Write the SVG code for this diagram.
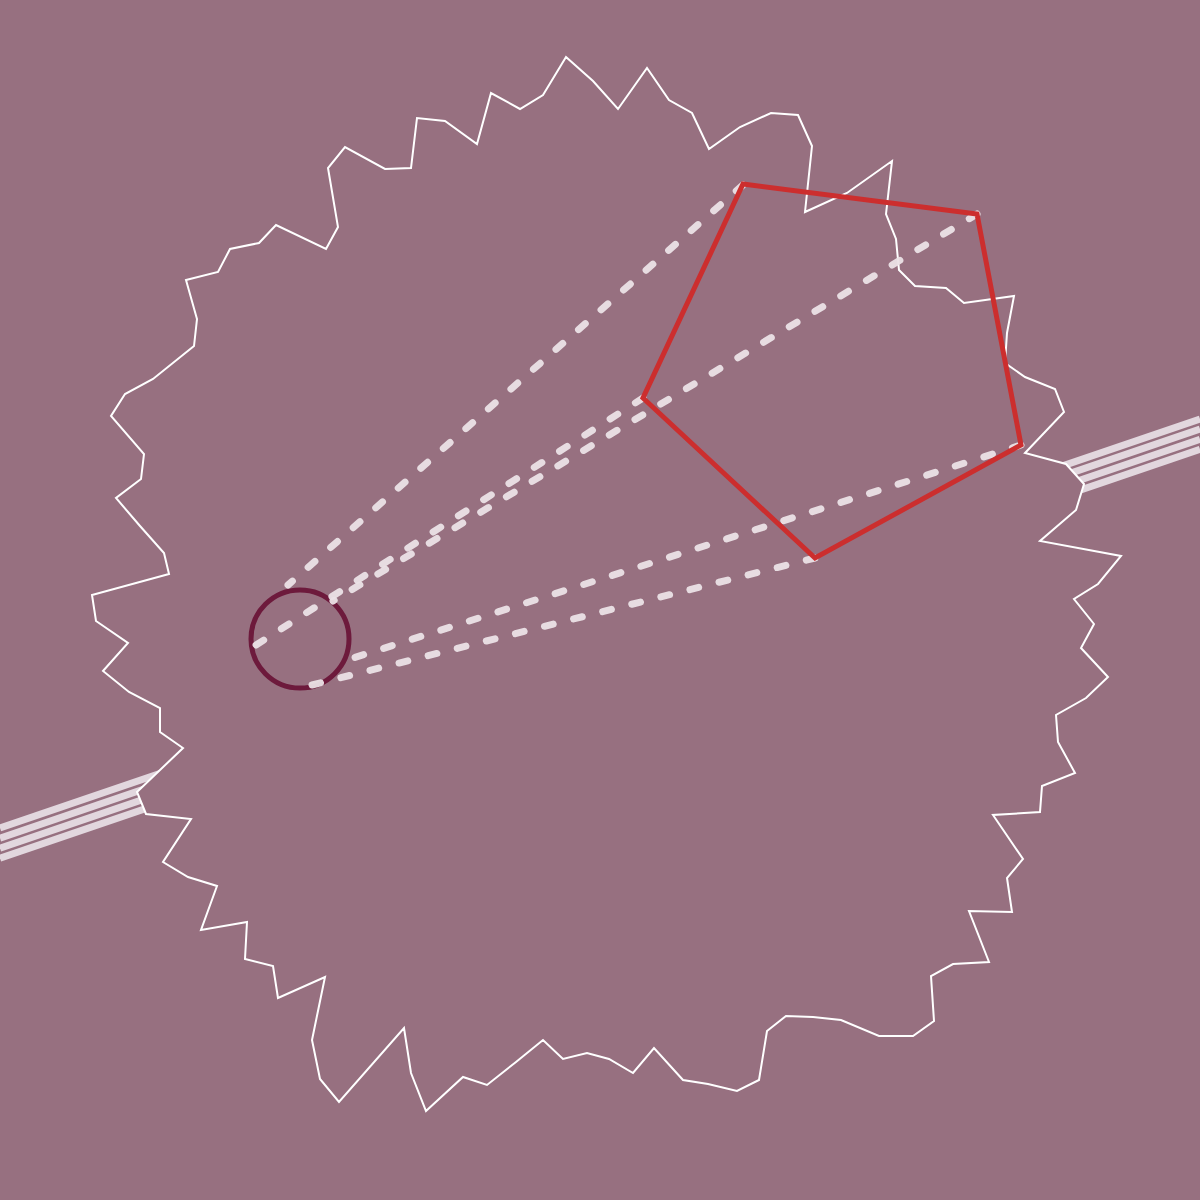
<svg xmlns="http://www.w3.org/2000/svg" width="1200" height="1200" viewBox="0 0 1200 1200">
  <style>
    .stripe { stroke: #e2d7de; stroke-width: 7; fill: none; }
    .blob { fill: #977080; stroke: #ffffff; stroke-width: 2; stroke-linejoin: miter; }
    .dash { stroke: #ebe1e6; stroke-width: 7; stroke-linecap: round; stroke-dasharray: 9 21; fill: none; opacity: 0.95; }
  </style>
  <rect width="1200" height="1200" fill="#977080"/>
  <g id="stripes">
    <line class="stripe" x1="0" y1="828" x2="1200" y2="419"/>
    <line class="stripe" x1="0" y1="838.1" x2="1200" y2="429.1"/>
    <line class="stripe" x1="0" y1="848.2" x2="1200" y2="439.2"/>
    <line class="stripe" x1="0" y1="858.3" x2="1200" y2="449.3"/>
  </g>
  <g id="blob">
    <polygon class="blob" points="566,57 593,81 618,109 647,68 669,100 692,113 709,149 740,127 771,113 798,115 812,146 805,212 847,193 892,161 886,214 896,239 899,270 915,286 946,288 964,303 1014,296 1007,333 1005,363 1025,377 1055,389 1064,412 1025,453 1066,464 1084,484 1076,510 1040,541 1121,556 1098,584 1074,599 1094,624 1081,648 1108,677 1086,698 1056,715 1058,742 1075,773 1042,786 1040,812 993,815 1023,859 1007,878 1012,912 969,911 989,962 953,964 931,976 934,1021 913,1036 879,1036 841,1020 813,1017 786,1016 767,1031 759,1080 737,1091 708,1084 683,1080 654,1048 633,1073 609,1059 587,1053 563,1059 543,1040 516,1062 487,1085 463,1077 426,1111 411,1073 404,1028 339,1102 320,1079 312,1040 325,977 278,998 273,966 245,959 247,922 201,930 217,886 188,877 163,862 191,819 146,814 137,792 183,748 160,732 160,708 129,692 103,671 128,643 96,621 92,595 169,574 164,553 140,526 116,498 141,479 144,454 111,416 125,394 153,379 194,346 197,319 186,280 218,272 230,249 259,243 276,225 326,249 338,227 328,168 345,147 385,169 411,168 417,118 445,121 477,144 491,93 520,109 543,95"/>
  </g>
  <g id="circle">
    <circle cx="300" cy="639" r="49" fill="none" stroke="#6d1a3c" stroke-width="5"/>
  </g>
  <g id="connectors">
    <line class="dash" x1="743" y1="185" x2="288" y2="585"/>
    <line class="dash" x1="643" y1="398" x2="256" y2="645"/>
    <line class="dash" x1="977" y1="214" x2="333" y2="601"/>
    <line class="dash" x1="1021" y1="445" x2="347" y2="660"/>
    <line class="dash" x1="815" y1="558" x2="312" y2="685"/>
  </g>
  <g id="pentagon">
    <polygon points="743,184 977,214 1021,445 815,558 643,398" fill="none" stroke="#cc2e2e" stroke-width="5" stroke-linejoin="miter"/>
  </g>
</svg>
